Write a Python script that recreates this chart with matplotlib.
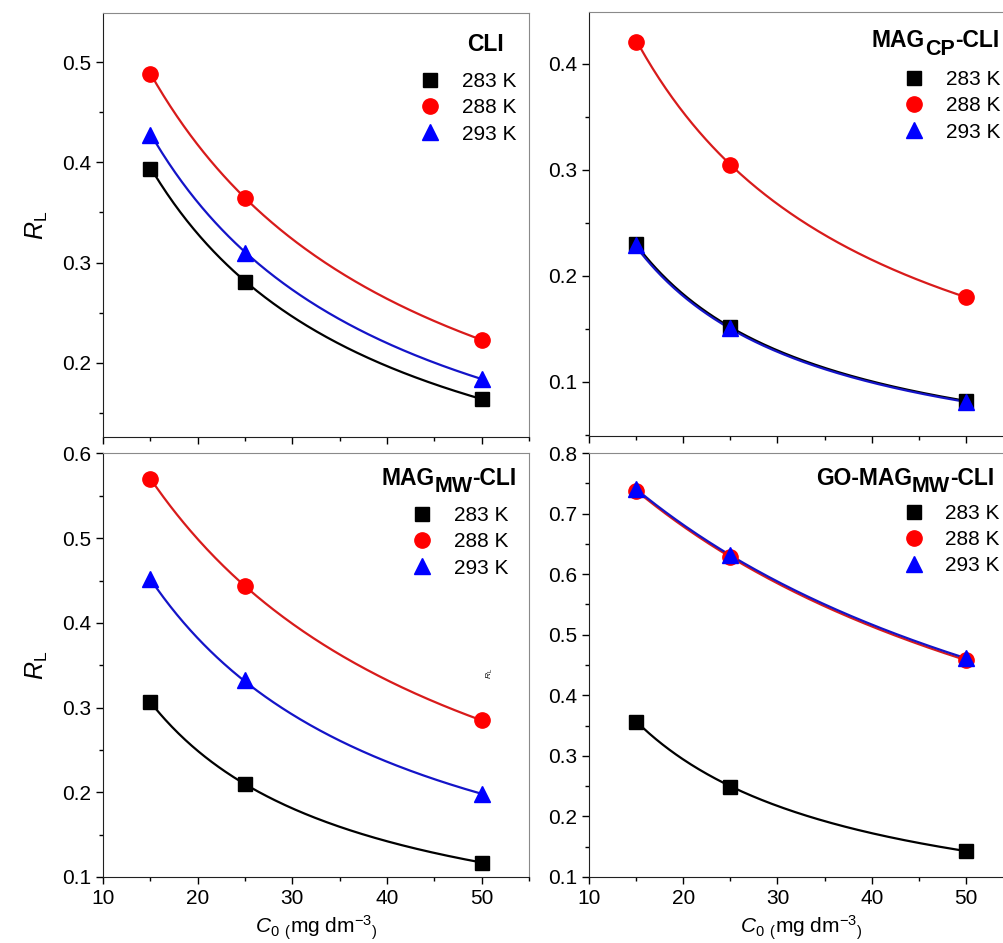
import numpy as np
import matplotlib.pyplot as plt
from matplotlib.ticker import AutoMinorLocator, MultipleLocator, FormatStrFormatter

plt.rcParams['font.family'] = 'Liberation Sans'
plt.rcParams['mathtext.fontset'] = 'custom'
plt.rcParams['mathtext.rm'] = 'Liberation Sans'
plt.rcParams['mathtext.it'] = 'Liberation Sans:italic'
plt.rcParams['mathtext.bf'] = 'Liberation Sans:bold'

# initial concentration (mg dm-3)
c0 = [15, 25, 50]
temps = ['283 K', '288 K', '293 K']

# R_L values
cli_283 = [0.393, 0.281, 0.164]
cli_288 = [0.488, 0.364, 0.223]
cli_293 = [0.427, 0.310, 0.184]

magcp_283 = [0.230, 0.152, 0.082]
magcp_288 = [0.421, 0.305, 0.180]
magcp_293 = [0.229, 0.151, 0.081]

magmw_283 = [0.307, 0.210, 0.117]
magmw_288 = [0.570, 0.443, 0.285]
magmw_293 = [0.452, 0.332, 0.198]

gomw_283 = [0.356, 0.249, 0.143]
gomw_288 = [0.737, 0.629, 0.458]
gomw_293 = [0.740, 0.632, 0.461]

marker_cols = ['#000000', '#ff0000', '#0000ff']
line_cols = ['#000000', '#d81b1b', '#1414c8']
markers = ['s', 'o', '^']
msizes = [10, 11, 11]


# R_L = 1 / (1 + K_L * C0), least squares for K_L
def fitCurve(c, r):
    c = np.array(c, dtype=float)
    r = np.array(r, dtype=float)
    k = np.sum(c * (1 / r - 1)) / np.sum(c * c)
    xf = np.linspace(c[0], c[-1], 200)
    return xf, 1 / (1 + k * xf)


# panel name with a full-size, lowered subscript (as Origin draws it)
def drawTitle(ax, parts, x, y):
    prev = None
    shift = 0
    for txt, sub in parts:
        dy = (-5.5 if sub else 0) - shift
        shift += dy
        if prev is None:
            prev = ax.text(x, y, txt, transform=ax.transAxes, ha='left',
                           va='baseline', fontsize=16.5, fontweight='bold')
        else:
            prev = ax.annotate(txt, xy=(1, 0), xycoords=prev, xytext=(0, dy),
                               textcoords='offset points', ha='left', va='bottom',
                               fontsize=15.5 if sub else 16.5, fontweight='bold')


def drawPanel(ax, series, title, ylim, ymajor, title_pos, leg_pos, xlabels):
    for i, r in enumerate(series):
        xf, yf = fitCurve(c0, r)
        ax.plot(xf, yf, color=line_cols[i], lw=1.6, zorder=2)
    for i, r in enumerate(series):
        ax.plot(c0, r, ls='none', marker=markers[i], ms=msizes[i],
                color=marker_cols[i], label=temps[i], zorder=3)
    ax.set_xlim(10, 55)
    ax.set_ylim(*ylim)
    ax.xaxis.set_major_locator(MultipleLocator(10))
    ax.xaxis.set_minor_locator(AutoMinorLocator(2))
    ax.yaxis.set_major_locator(MultipleLocator(ymajor))
    ax.yaxis.set_minor_locator(AutoMinorLocator(2))
    ax.yaxis.set_major_formatter(FormatStrFormatter('%.1f'))
    ax.tick_params(which='major', direction='out', length=5, width=1, labelsize=15)
    ax.tick_params(which='minor', direction='out', length=3, width=1)
    if not xlabels:
        ax.tick_params(axis='x', labelbottom=False)
    else:
        ax.set_xlabel(r'$C_{\mathrm{0}}$ $_($mg dm$^{-3}$$_)$', fontsize=15, labelpad=4)
    for s in ['top', 'right']:
        ax.spines[s].set_color('#8a8a8a')
    for s in ['left', 'bottom']:
        ax.spines[s].set_color('#202020')
    drawTitle(ax, title, title_pos[0], title_pos[1])
    ax.legend(loc='upper left', bbox_to_anchor=leg_pos, frameon=False,
              fontsize=15, handlelength=1.0, handletextpad=1.0,
              borderpad=0, borderaxespad=0, labelspacing=0.35)


fig = plt.figure(figsize=(10.04, 9.43), dpi=100)
ax_tl = fig.add_axes([0.1026, 0.5366, 0.4243, 0.4496])
ax_tr = fig.add_axes([0.5867, 0.5377, 0.4223, 0.4496])
ax_bl = fig.add_axes([0.1026, 0.0700, 0.4243, 0.4491])
ax_br = fig.add_axes([0.5867, 0.0700, 0.4223, 0.4496])

drawPanel(ax_tl, [cli_283, cli_288, cli_293], [('CLI', False)],
          (0.126, 0.549), 0.1, (0.855, 0.91), (0.744, 0.861), False)
drawPanel(ax_tr, [magcp_283, magcp_288, magcp_293],
          [('MAG', False), ('CP', True), ('-CLI', False)],
          (0.049, 0.449), 0.1, (0.667, 0.917), (0.743, 0.863), False)
drawPanel(ax_bl, [magmw_283, magmw_288, magmw_293],
          [('MAG', False), ('MW', True), ('-CLI', False)],
          (0.1, 0.6), 0.1, (0.653, 0.926), (0.725, 0.876), True)
drawPanel(ax_br, [gomw_283, gomw_288, gomw_293],
          [('GO-MAG', False), ('MW', True), ('-CLI', False)],
          (0.1, 0.8), 0.1, (0.535, 0.925), (0.741, 0.880), True)

ax_tl.set_ylabel(r'$R_{\mathrm{L}}$', fontsize=18, labelpad=9)
ax_bl.set_ylabel(r'$R_{\mathrm{L}}$', fontsize=18, labelpad=9)

# stray small label left in the original figure
ax_bl.text(50.9, 0.34, r'$R_{\mathrm{L}}$', fontsize=6, rotation=90,
           ha='center', va='center')

fig.savefig('out.png', dpi=100)
